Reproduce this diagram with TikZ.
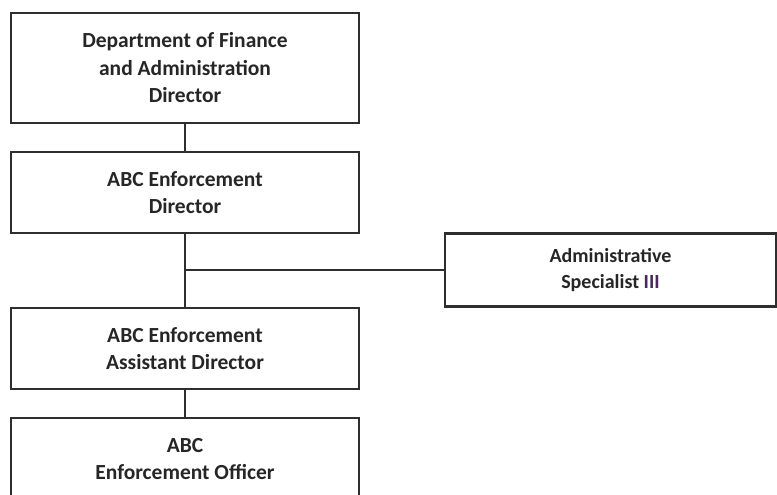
\documentclass[tikz,border=0pt]{standalone}
\usepackage{fontspec}
\setmainfont{Carlito}
\definecolor{linec}{HTML}{2E2E2E}
\definecolor{txtc}{HTML}{262626}
\definecolor{romanc}{HTML}{4A2A5E}
\tikzset{
  orgbox/.style={draw=linec, line width=2.2pt, rectangle, minimum width=348pt, align=center,
    text=txtc, font=\fontsize{21.5}{27.5}\selectfont\bfseries, inner sep=0pt},
  conn/.style={draw=linec, line width=2.2pt}
}
\begin{document}
\begin{tikzpicture}[x=1pt,y=-1pt]
\useasboundingbox (0,0) rectangle (777,495);
\clip (0,0) rectangle (777,495);
\fill[white] (0,0) rectangle (777,495);
\node[orgbox, minimum height=110pt] (dfa) at (185,68) {Department of Finance\\and Administration\\Director};
\node[orgbox, minimum height=81pt] (dir) at (185,192.5) {ABC Enforcement\\Director};
\node[orgbox, minimum width=331pt, minimum height=73pt, font=\fontsize{20}{26}\selectfont\bfseries] (spec) at (610.5,270) {Administrative\\Specialist \textcolor{romanc}{III}};
\node[orgbox, minimum height=81pt] (asst) at (185,348.5) {ABC Enforcement\\Assistant Director};
\node[orgbox, minimum height=82pt] (off) at (185,459) {ABC\\Enforcement Officer};
\coordinate (j) at (dir.south |- spec.west);
\draw[conn] (dfa.south) -- (dir.north);
\draw[conn] (dir.south) -- (asst.north);
\draw[conn] (j) -- (spec.west);
\draw[conn] (asst.south) -- (off.north);
\end{tikzpicture}
\end{document}
